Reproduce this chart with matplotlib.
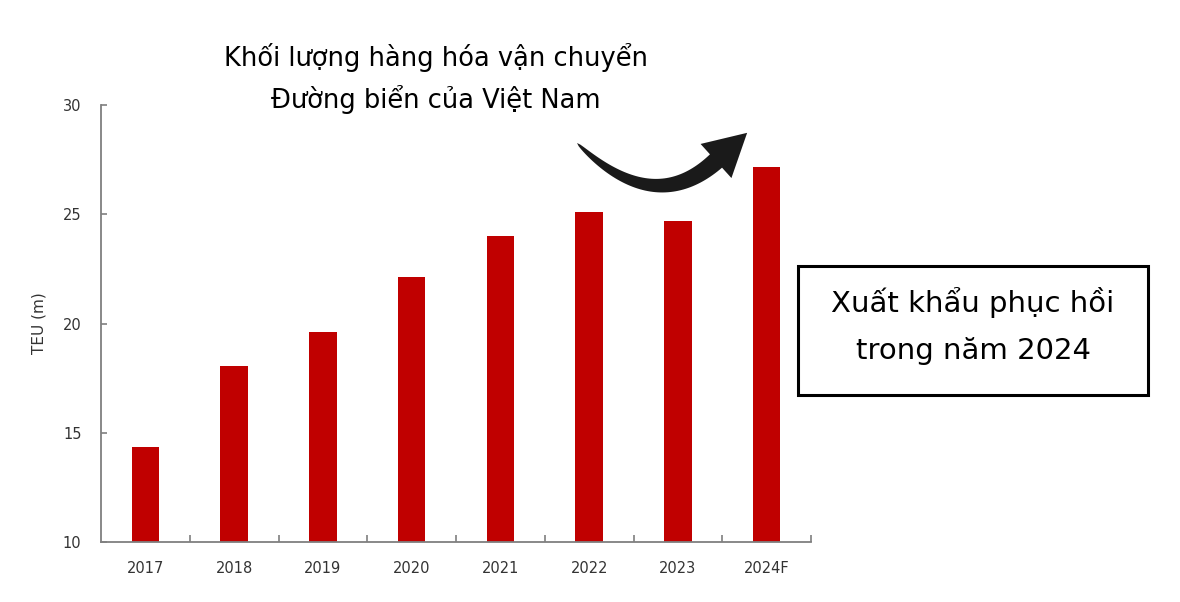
import numpy as np
import matplotlib.pyplot as plt
from matplotlib.patches import Polygon, Rectangle

plt.rcParams['font.family'] = ['DejaVu Sans']

# du lieu doc tu hinh
years = ["2017", "2018", "2019", "2020", "2021", "2022", "2023", "2024F"]
teu = [14.35, 18.05, 19.6, 22.15, 24.0, 25.1, 24.7, 27.15]
y_ticks = [10, 15, 20, 25, 30]

title_lines = ["Khối lượng hàng hóa vận chuyển", "Đường biển của Việt Nam"]
box_lines = ["Xuất khẩu phục hồi", "trong năm 2024"]

W, H = 1180, 602
fig = plt.figure(figsize=(W / 100, H / 100), dpi=100)
ax = fig.add_axes([101 / W, 1 - 542 / H, (811 - 101) / W, (542 - 105) / H])

x = np.arange(len(years))
ax.bar(x, np.array(teu) - 10, bottom=10, width=0.31, color="#c00000")

ax.set_xlim(-0.5, len(years) - 0.5)
ax.set_ylim(10, 30)
ax.set_yticks(y_ticks)
ax.set_xticks(x)
ax.set_xticklabels(years)
ax.set_xticks(np.arange(0.5, len(years), 1), minor=True)

for s in ["top", "right"]:
    ax.spines[s].set_visible(False)
for s in ["left", "bottom"]:
    ax.spines[s].set_color("#7f7f7f")
    ax.spines[s].set_linewidth(1.3)

ax.tick_params(axis="x", which="major", length=0, pad=14, labelsize=10.5, labelcolor="#333333")
ax.tick_params(axis="x", which="minor", direction="in", length=5, color="#7f7f7f", width=1.2)
ax.tick_params(axis="y", direction="in", length=4, color="#7f7f7f", width=1.2,
               pad=14, labelsize=10.5, labelcolor="#333333")
ax.set_ylabel("TEU (m)", fontsize=11, color="#333333", labelpad=12)

# tieu de
fig.text(436 / W, 1 - 57 / H, title_lines[0], ha="center", va="center", fontsize=18.5)
fig.text(436 / W, 1 - 100 / H, title_lines[1], ha="center", va="center", fontsize=18.5)

# khung chu
box = Rectangle((798 / W, 1 - 395 / H), (1148 - 798) / W, (395 - 266) / H,
                transform=fig.transFigure, fill=False, edgecolor="black", linewidth=2.2)
fig.patches.append(box)
fig.text(973 / W, 1 - 302 / H, box_lines[0], ha="center", va="center", fontsize=21)
fig.text(973 / W, 1 - 351 / H, box_lines[1], ha="center", va="center", fontsize=21)

# mui ten cong (toa do pixel, y tinh tu tren xuong)
p0 = np.array([577.0, 143.0])
c = np.array([653.0, 218.0])
p2 = np.array([716.0, 161.0])
t = np.linspace(0, 1, 60)[:, None]
pts = (1 - t) ** 2 * p0 + 2 * (1 - t) * t * c + t ** 2 * p2
der = 2 * (1 - t) * (c - p0) + 2 * t * (p2 - c)
tang = der / np.linalg.norm(der, axis=1, keepdims=True)
nrm = np.column_stack([-tang[:, 1], tang[:, 0]])
half = (9.0 * t[:, 0] ** 0.5)[:, None]
upper = pts + half * nrm
lower = pts - half * nrm
d = tang[-1]
n = nrm[-1]
tip = p2 + 42 * d
head = [p2 + 23 * n, tip, p2 - 23 * n]
outline = np.vstack([upper, head, lower[::-1]])
fig_xy = np.column_stack([outline[:, 0] / W, 1 - outline[:, 1] / H])
fig.patches.append(Polygon(fig_xy, closed=True, transform=fig.transFigure,
                           facecolor="#1a1a1a", edgecolor="none"))

fig.savefig("out.png", dpi=100)
